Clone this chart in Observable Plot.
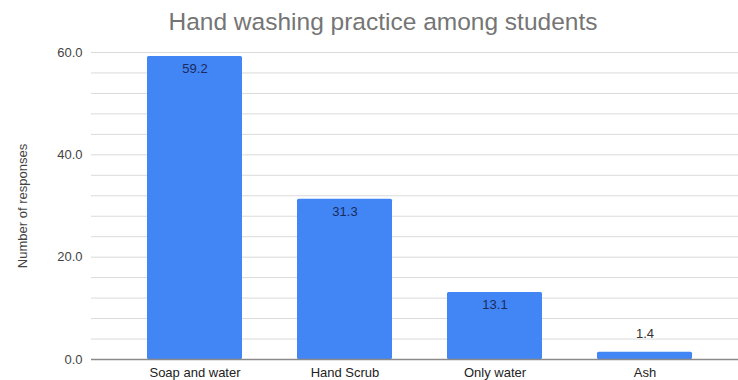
<!DOCTYPE html>
<html>
<head>
<meta charset="utf-8">
<script src="https://cdn.jsdelivr.net/npm/d3@7"></script>
<script src="https://cdn.jsdelivr.net/npm/@observablehq/plot@0.6"></script>
<style>
  html, body { margin: 0; padding: 0; background: #fff; }
  body { font-family: "Liberation Sans", Arial, sans-serif; width: 738px; height: 380px; overflow: hidden; }
  #title { width: 766px; height: 42px; line-height: 44px; text-align: center; font-size: 24.5px; color: #757575; }
  svg { display: block; }
</style>
</head>
<body>
<div id="title">Hand washing practice among students</div>
<div id="chart"></div>
<script>
// Hand washing methods and the share of responses for each
const categories = ["Soap and water", "Hand Scrub", "Only water", "Ash"];
const responses = [59.2, 31.3, 13.1, 1.4];
const yTicks = [0, 20, 40, 60];
const gridValues = d3.range(0, 61, 4);

const data = categories.map((c, i) => ({category: c, value: responses[i]}));
const fmt = d3.format(".1f");

const chart = Plot.plot({
  width: 738,
  height: 338,
  marginLeft: 91,
  marginRight: 0,
  marginTop: 10,
  marginBottom: 21,
  style: {fontFamily: "'Liberation Sans', Arial, sans-serif", background: "#fff"},
  x: {type: "band", domain: categories, range: [91, 749], paddingInner: 0.364, paddingOuter: 0.361, label: null},
  y: {domain: [0, 60], label: null},
  marks: [
    Plot.ruleY(gridValues, {stroke: "#dadada", strokeWidth: 1}),
    Plot.barY(data, {x: "category", y: "value", fill: "#4285f4", rx: 1.5}),
    Plot.ruleY([0], {stroke: "#8a8a8a", strokeWidth: 1.5}),
    Plot.text(data.filter(d => d.value >= 5), {
      x: "category", y: "value", text: d => fmt(d.value),
      dy: 12, fill: "#1b2b5e", fontSize: 13
    }),
    Plot.text(data.filter(d => d.value < 5), {
      x: "category", y: "value", text: d => fmt(d.value),
      dy: -19, fill: "#333", fontSize: 13
    }),
    Plot.axisY({
      ticks: yTicks, tickFormat: ".1f", tickSize: 0, tickPadding: 9,
      fontSize: 13, color: "#444",
      label: "Number of responses", labelAnchor: "center", labelOffset: 74, labelArrow: false
    }),
    Plot.axisX({tickSize: 0, tickPadding: 8, fontSize: 13, color: "#222", label: null})
  ]
});
document.getElementById("chart").appendChild(chart);
</script>
</body>
</html>
